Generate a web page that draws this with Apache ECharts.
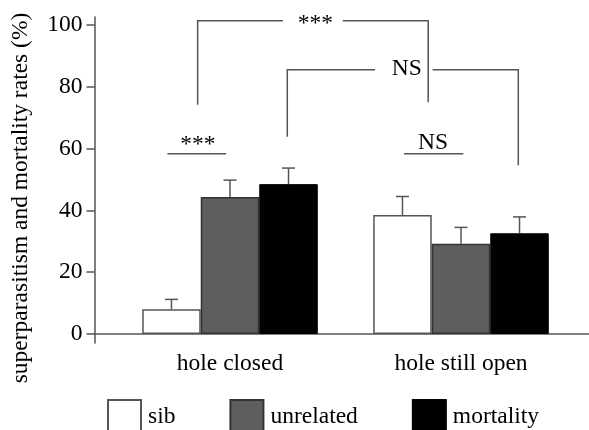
<!DOCTYPE html>
<html><head><meta charset="utf-8">
<script src="https://cdn.jsdelivr.net/npm/echarts@6/dist/echarts.min.js"></script>
<style>html,body{margin:0;padding:0;background:#fff}#c{width:589px;height:430px}</style>
</head><body><div id="c"></div>
<script>
var categories = ['hole closed', 'hole still open'];
var seriesNames = ['sib', 'unrelated', 'mortality'];
var sib = [8.0, 38.5];
var sibErr = [3.2, 6.0];
var unrelated = [44.3, 29.2];
var unrelatedErr = [5.5, 5.3];
var mortality = [48.5, 32.6];
var mortalityErr = [5.2, 5.3];
var yTicks = [0, 20, 40, 60, 80, 100];

// significance brackets (x in category units: 0 = first group centre, 1 = second; y in %)
var bracketLabels = ['NS', '***', '***', 'NS'];
var bracketSegments = [
  [[[0.248, 63.8], [0.248, 85.5], [0.628, 85.5]], [[0.877, 85.5], [1.248, 85.5], [1.248, 54.6]]],
  [[[-0.14, 74.2], [-0.14, 101.4], [0.229, 101.4]], [[0.488, 101.4], [0.858, 101.4], [0.858, 75.0]]],
  [[[-0.271, 58.3], [-0.017, 58.3]]],
  [[[0.753, 58.3], [1.01, 58.3]]]
];
var bracketTextAt = [[0.765, 85.7], [0.37, 100.3], [-0.139, 61.3], [0.879, 61.9]];

var FONT = '"Liberation Serif","Times New Roman",serif';
var LINE = '#555555';

var chart = echarts.init(document.getElementById('c'));

function errSeries(vals, errs, k) {
  return {
    type: 'custom', xAxisIndex: 0, yAxisIndex: 0, silent: true, z: 3,
    data: vals.map(function (v, i) { return [i, v, v + errs[i]]; }),
    renderItem: function (params, api) {
      var band = api.size([1, 0])[0];
      var bw = band * 0.76 / 3;
      var p0 = api.coord([api.value(0), api.value(1)]);
      var p1 = api.coord([api.value(0), api.value(2)]);
      var x = p0[0] + (k - 1) * bw;
      var cap = 6.5;
      var st = { stroke: LINE, lineWidth: 1.5, fill: null };
      return { type: 'group', children: [
        { type: 'line', shape: { x1: x, y1: p0[1], x2: x, y2: p1[1] }, style: st },
        { type: 'line', shape: { x1: x - cap, y1: p1[1], x2: x + cap, y2: p1[1] }, style: st }
      ]};
    }
  };
}

var option = {
  animation: false,
  backgroundColor: '#fff',
  textStyle: { fontFamily: FONT },
  grid: [
    { left: 114.5, right: 12.5, top: 25, bottom: 96 },
    { left: 94, right: 0, top: 25, bottom: 96 },
    { left: 94.5, width: 10, top: 17, bottom: 87 }
  ],
  legend: {
    left: 107, top: 399, padding: 0,
    itemWidth: 33, itemHeight: 33, itemGap: 54,
    icon: 'rect',
    data: seriesNames,
    textStyle: { fontFamily: FONT, fontSize: 23.5, color: '#000', padding: [4, 0, 0, 2] }
  },
  xAxis: [
    { type: 'category', gridIndex: 0, data: categories,
      axisLine: { show: false }, axisTick: { show: false },
      axisLabel: { fontFamily: FONT, fontSize: 23.5, color: '#000', margin: 18 } },
    { type: 'value', gridIndex: 0, min: -0.5, max: 1.5, show: false },
    { type: 'value', gridIndex: 1, min: 0, max: 1,
      axisLine: { show: true, onZero: false, lineStyle: { color: LINE, width: 1.5 } },
      axisTick: { show: false }, axisLabel: { show: false }, splitLine: { show: false } },
    { type: 'value', gridIndex: 2, min: 0, max: 1, show: false }
  ],
  yAxis: [
    { type: 'value', gridIndex: 0, min: 0, max: 100, interval: 20, offset: 20,
      axisLine: { show: false, onZero: false },
      axisTick: { show: true, length: 8, lineStyle: { color: LINE, width: 1.5 } },
      axisLabel: { fontFamily: FONT, fontSize: 23.5, color: '#000', margin: 12,
        formatter: function (v) { return yTicks.indexOf(v) >= 0 ? String(v) : ''; } },
      splitLine: { show: false },
      name: 'superparasitism and mortality rates (%)',
      nameLocation: 'middle', nameGap: 62, nameRotate: 90,
      nameTextStyle: { fontFamily: FONT, fontSize: 23.5, color: '#000', padding: [0, 37, 0, 0] } },
    { type: 'value', gridIndex: 1, min: 0, max: 1, show: false },
    { type: 'value', gridIndex: 2, min: 0, max: 1,
      axisLine: { show: true, onZero: false, lineStyle: { color: LINE, width: 1.5 } },
      axisTick: { show: false }, axisLabel: { show: false }, splitLine: { show: false } }
  ],
  series: [
    { name: 'sib', type: 'bar', xAxisIndex: 0, yAxisIndex: 0, data: sib,
      barGap: '0%', barCategoryGap: '24%',
      itemStyle: { color: '#ffffff', borderColor: '#555555', borderWidth: 1.5 } },
    { name: 'unrelated', type: 'bar', xAxisIndex: 0, yAxisIndex: 0, data: unrelated,
      itemStyle: { color: '#5e5e5e', borderColor: '#333333', borderWidth: 1.5 } },
    { name: 'mortality', type: 'bar', xAxisIndex: 0, yAxisIndex: 0, data: mortality,
      itemStyle: { color: '#000000', borderColor: '#000000', borderWidth: 1 } },
    errSeries(sib, sibErr, 0),
    errSeries(unrelated, unrelatedErr, 1),
    errSeries(mortality, mortalityErr, 2),
    { type: 'custom', xAxisIndex: 1, yAxisIndex: 0, silent: true, z: 4,
      data: bracketTextAt.map(function (p, i) { return [p[0], p[1], i]; }),
      renderItem: function (params, api) {
        var i = api.value(2);
        var children = bracketSegments[i].map(function (seg) {
          return { type: 'polyline',
            shape: { points: seg.map(function (pt) { return api.coord(pt); }) },
            style: { stroke: LINE, lineWidth: 1.5, fill: null } };
        });
        var tp = api.coord([api.value(0), api.value(1)]);
        children.push({ type: 'text', x: tp[0], y: tp[1],
          style: { text: bracketLabels[i], fill: '#000', font: '23.5px ' + FONT,
            align: 'center', verticalAlign: 'middle' } });
        return { type: 'group', children: children };
      }
    }
  ]
};
chart.setOption(option);
</script></body></html>
